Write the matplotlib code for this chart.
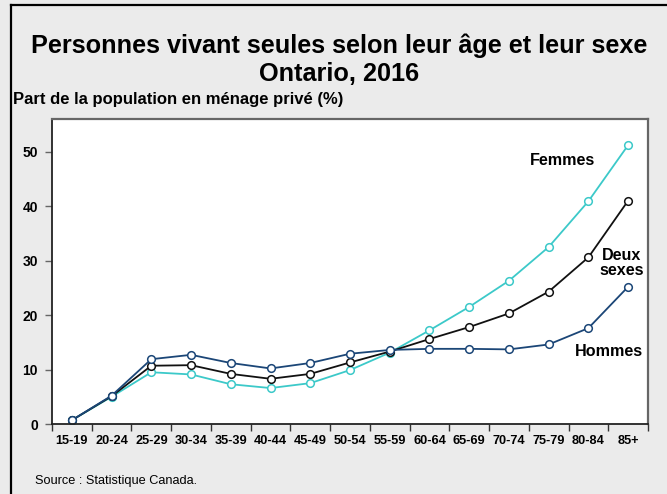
import matplotlib.pyplot as plt
from matplotlib.lines import Line2D

plt.rcParams['font.family'] = ['Liberation Sans', 'DejaVu Sans']

# age groups and shares (%) of the population living alone
ages = ['15-19', '20-24', '25-29', '30-34', '35-39', '40-44', '45-49', '50-54',
        '55-59', '60-64', '65-69', '70-74', '75-79', '80-84', '85+']
femmes = [0.7, 5.0, 9.5, 9.1, 7.3, 6.6, 7.5, 9.9, 13.1, 17.2, 21.5, 26.3, 32.5, 40.9, 51.2]
deux_sexes = [0.7, 5.1, 10.7, 10.8, 9.2, 8.3, 9.2, 11.3, 13.3, 15.6, 17.8, 20.3, 24.3, 30.6, 41.0]
hommes = [0.7, 5.2, 11.9, 12.7, 11.2, 10.2, 11.2, 12.9, 13.6, 13.8, 13.8, 13.7, 14.6, 17.6, 25.2]
yticks = [0, 10, 20, 30, 40, 50]

bg = '#ebebeb'
fig = plt.figure(figsize=(6.67, 4.94), dpi=100, facecolor=bg)

# frame of the whole chart (only left and top visible in the crop)
fig.add_artist(Line2D([11 / 667, 11 / 667], [0, 1 - 5 / 494], transform=fig.transFigure,
                      color='black', lw=1.6))
fig.add_artist(Line2D([11 / 667, 1], [1 - 5 / 494, 1 - 5 / 494], transform=fig.transFigure,
                      color='black', lw=1.6))

ax = fig.add_axes([52 / 667, 70 / 494, 596 / 667, 305 / 494])
ax.set_facecolor('white')

x = range(len(ages))
series = [(femmes, '#3cc9c9'), (deux_sexes, '#111111'), (hommes, '#1b4677')]
for vals, col in series:
    ax.plot(x, vals, color=col, lw=1.3, marker='o', ms=5.5, mfc='white',
            mec=col, mew=1.1)

ax.set_xlim(-0.5, len(ages) - 0.5)
ax.set_ylim(0, 56)
ax.set_xticks(list(x))
ax.set_xticklabels(ages, fontsize=9.2, fontweight='bold')
ax.set_xticks([i - 0.5 for i in range(len(ages) + 1)], minor=True)
ax.tick_params(axis='x', which='major', length=0, pad=8)
ax.tick_params(axis='x', which='minor', length=5, width=1, color='#333333', direction='out')
ax.set_yticks(yticks)
ax.set_yticklabels([str(v) for v in yticks], fontsize=10, fontweight='bold')
ax.tick_params(axis='y', length=5, width=1, color='#666666', direction='out', pad=5)

for side in ['left', 'bottom']:
    ax.spines[side].set_color('#222222')
    ax.spines[side].set_linewidth(1.3)
for side in ['top', 'right']:
    ax.spines[side].set_color('#666666')
    ax.spines[side].set_linewidth(1.6)

ax.text(12.35, 48.3, 'Femmes', fontsize=11.6, fontweight='bold', ha='center', va='center')
ax.text(13.83, 29.5, 'Deux\nsexes', fontsize=11.6, fontweight='bold', ha='center', va='center',
        linespacing=1.0)
ax.text(13.52, 13.3, 'Hommes', fontsize=11.6, fontweight='bold', ha='center', va='center')

fig.text(339 / 667, 1 - 46 / 494, 'Personnes vivant seules selon leur âge et leur sexe',
         fontsize=18.2, fontweight='bold', ha='center', va='center')
fig.text(339 / 667, 1 - 74 / 494, 'Ontario, 2016', fontsize=18.2, fontweight='bold',
         ha='center', va='center')
fig.text(13 / 667, 1 - 99 / 494, 'Part de la population en ménage privé (%)',
         fontsize=12, fontweight='bold', ha='left', va='center')
fig.text(35 / 667, 1 - 481 / 494, 'Source : Statistique Canada.', fontsize=9.2,
         ha='left', va='center')

fig.savefig('out.png', dpi=100, facecolor=bg)
